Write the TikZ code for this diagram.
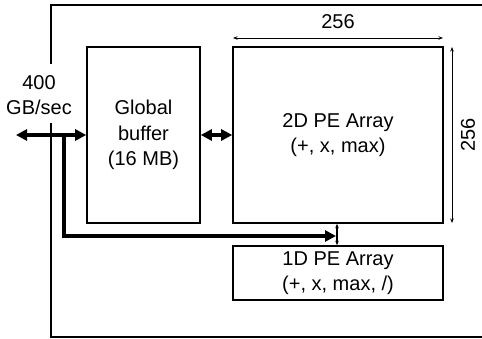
\documentclass[tikz,border=0pt]{standalone}
\usepackage{fontspec}
\setmainfont{Liberation Sans}
\usetikzlibrary{arrows.meta}
\begin{document}
\begin{tikzpicture}[x=1pt,y=-1pt,
  box/.style={draw,line width=1.6pt,minimum width=#1,inner sep=0pt,align=center},
  lbl/.style={align=center,inner sep=0pt},
  bus/.style={line width=3.6pt,-{Triangle[length=11pt,width=11pt]}},
  bibus/.style={line width=3.6pt,{Triangle[length=11pt,width=11pt]}-{Triangle[length=11pt,width=11pt]}},
  dim/.style={line width=0.8pt,{Stealth[length=4.5pt,width=3.5pt]}-{Stealth[length=4.5pt,width=3.5pt]}},
  every node/.style={font=\fontsize{20}{25.5}\selectfont}]
\useasboundingbox (0,0) rectangle (482,339);
\clip (0,0) rectangle (482,339);
% outer frame (extends beyond right edge)
\draw[line width=1.8pt] (51,64) -- (51,5) -- (500,5);
\draw[line width=1.8pt] (51,123) -- (51,337) -- (500,337);
% blocks
\node[box=113pt,minimum height=176pt] (gb) at (143.5,135) {Global\\buffer\\(16 MB)};
\node[box=210pt,minimum height=176pt] (pe2) at (338,135) {2D PE Array\\(+, x, max)};
\node[box=210pt,minimum height=54pt] (pe1) at (338,273) {1D PE Array\\(+, x, max, /)};
% labels
\node[lbl] (bw) at (39,95) {400\\GB/sec};
\node[lbl] (w) at (338,22) {256};
\node[lbl,rotate=90] (h) at (468,135) {256};
% dimension lines
\coordinate (dl) at (233,38);
\coordinate (dr) at (443,38);
\coordinate (vt) at (452,47);
\coordinate (vb) at (452,223);
\draw[dim] (dl) -- (dr);
\draw[dim] (vt) -- (vb);
% buses
\coordinate (ext) at (16,135);
\coordinate (tap) at (64,135);
\coordinate (turn) at (64,236);
\coordinate (end) at (336,236);
\draw[bibus] (ext) -- (gb.west);
\draw[bibus] (gb.east) -- (pe2.west);
\draw[bus] (tap) -- (turn) -- (end);
\draw[dim,line width=1.1pt] ([xshift=-1pt]pe2.south) -- ([xshift=-1pt]pe1.north);
\end{tikzpicture}
\end{document}
